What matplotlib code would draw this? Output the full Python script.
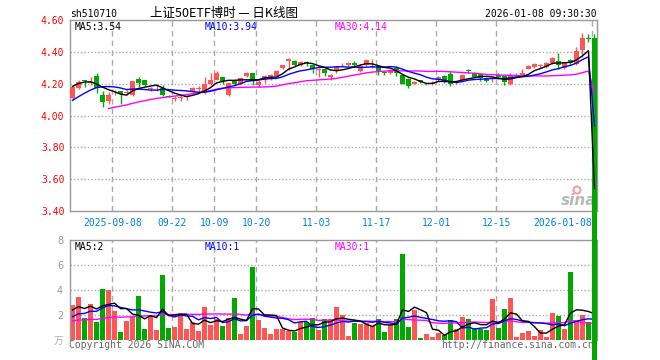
import matplotlib
matplotlib.use("Agg")
import matplotlib.pyplot as plt
from matplotlib.patches import Rectangle, Ellipse
import numpy as np
import pandas as pd

# ---------------- data ----------------
holidays = ["2025-10-01", "2025-10-02", "2025-10-03", "2025-10-06", "2025-10-07",
            "2025-10-08", "2026-01-01", "2026-01-02"]
dates = [d for d in pd.bdate_range("2025-08-28", "2026-01-08").strftime("%Y-%m-%d")
         if d not in holidays]

opens = [4.11, 4.17, 4.225, 4.205, 4.25, 4.127, 4.09, 4.145, 4.152, 4.14,
         4.13, 4.23, 4.225, 4.165, 4.17, 4.175, 4.125, 4.105, 4.11, 4.115,
         4.155, 4.165, 4.14, 4.195, 4.225, 4.24, 4.13, 4.22, 4.20, 4.25,
         4.27, 4.19, 4.225, 4.235, 4.25, 4.30, 4.345, 4.34, 4.32, 4.335,
         4.315, 4.285, 4.29, 4.24, 4.285, 4.315, 4.32, 4.33, 4.28, 4.32,
         4.305, 4.31, 4.275, 4.267, 4.30, 4.256, 4.23, 4.20, 4.22, 4.195,
         4.20, 4.22, 4.25, 4.263, 4.205, 4.225, 4.285, 4.265, 4.26, 4.235,
         4.23, 4.255, 4.25, 4.195, 4.25, 4.256, 4.295, 4.305, 4.31, 4.305,
         4.33, 4.345, 4.30, 4.35, 4.325, 4.41, 4.485, 4.49]
highs = [4.185, 4.22, 4.225, 4.24, 4.265, 4.156, 4.15, 4.16, 4.155, 4.16,
         4.215, 4.24, 4.225, 4.18, 4.19, 4.19, 4.13, 4.125, 4.13, 4.13,
         4.18, 4.185, 4.245, 4.265, 4.28, 4.245, 4.205, 4.225, 4.24, 4.275,
         4.27, 4.22, 4.255, 4.26, 4.285, 4.32, 4.36, 4.35, 4.34, 4.345,
         4.32, 4.30, 4.295, 4.26, 4.31, 4.33, 4.335, 4.34, 4.325, 4.355,
         4.355, 4.315, 4.28, 4.295, 4.31, 4.26, 4.235, 4.215, 4.225, 4.21,
         4.215, 4.25, 4.255, 4.28, 4.215, 4.26, 4.29, 4.275, 4.265, 4.24,
         4.245, 4.27, 4.255, 4.27, 4.265, 4.29, 4.32, 4.33, 4.325, 4.335,
         4.365, 4.395, 4.335, 4.355, 4.43, 4.52, 4.51, 4.51]
lows = [4.105, 4.165, 4.18, 4.19, 4.14, 4.052, 4.07, 4.13, 4.075, 4.13,
        4.12, 4.18, 4.185, 4.155, 4.155, 4.125, 4.115, 4.09, 4.09, 4.10,
        4.15, 4.155, 4.135, 4.19, 4.22, 4.195, 4.125, 4.19, 4.195, 4.245,
        4.19, 4.18, 4.205, 4.225, 4.245, 4.29, 4.283, 4.31, 4.31, 4.31,
        4.27, 4.245, 4.25, 4.22, 4.27, 4.31, 4.31, 4.31, 4.275, 4.31,
        4.30, 4.255, 4.255, 4.26, 4.25, 4.195, 4.175, 4.195, 4.205, 4.19,
        4.19, 4.215, 4.205, 4.185, 4.20, 4.215, 4.27, 4.24, 4.215, 4.21,
        4.21, 4.23, 4.19, 4.19, 4.245, 4.25, 4.29, 4.30, 4.30, 4.30,
        4.325, 4.295, 4.29, 4.315, 4.315, 4.37, 4.46, 0.0]
closes = [4.18, 4.21, 4.215, 4.208, 4.175, 4.083, 4.13, 4.15, 4.133, 4.145,
          4.215, 4.205, 4.19, 4.17, 4.175, 4.13, 4.117, 4.11, 4.115, 4.12,
          4.17, 4.17, 4.195, 4.22, 4.27, 4.215, 4.205, 4.195, 4.235, 4.27,
          4.215, 4.21, 4.25, 4.255, 4.28, 4.315, 4.355, 4.32, 4.335, 4.33,
          4.29, 4.29, 4.265, 4.256, 4.305, 4.32, 4.33, 4.32, 4.31, 4.35,
          4.31, 4.275, 4.265, 4.288, 4.265, 4.20, 4.185, 4.21, 4.21, 4.20,
          4.205, 4.245, 4.21, 4.198, 4.21, 4.255, 4.28, 4.245, 4.235, 4.215,
          4.235, 4.24, 4.21, 4.25, 4.255, 4.27, 4.31, 4.325, 4.315, 4.33,
          4.36, 4.32, 4.33, 4.33, 4.405, 4.49, 4.48, 0.0]
volumes = [2.8, 3.47, 1.79, 2.88, 1.47, 4.08, 4.0, 2.32, 0.67, 1.55,
           1.81, 3.55, 0.88, 1.92, 0.8, 5.2, 0.99, 1.07, 2.19, 0.88,
           1.47, 0.75, 2.64, 1.2, 1.65, 1.12, 1.73, 3.36, 0.48, 1.12,
           5.84, 1.6, 0.96, 0.48, 0.88, 0.88, 0.72, 0.64, 1.47, 1.47,
           1.73, 0.8, 1.65, 1.65, 2.67, 2.0, 0.32, 1.33, 1.28, 1.33,
           1.15, 1.68, 0.67, 1.2, 1.65, 6.88, 1.01, 2.4, 0.16, 0.48,
           0.27, 0.59, 0.37, 1.6, 0.88, 1.81, 1.68, 0.93, 0.88, 0.8,
           3.28, 0.96, 2.48, 3.36, 0.27, 0.59, 0.75, 0.35, 0.8, 0.27,
           2.19, 1.95, 0.88, 5.47, 1.6, 2.0, 1.44, 0.0]

# sessions before the visible window (only feed the moving averages)
prior_closes = [3.90, 3.92, 3.93, 3.91, 3.94, 3.96, 3.95, 3.97, 3.96, 3.98,
                3.97, 3.99, 3.98, 3.97, 3.98, 4.00, 4.01, 4.02, 4.03,
                4.12, 4.17, 4.20, 4.245]
prior_volumes = [1.1, 1.4, 0.9, 1.6, 1.2, 1.3, 1.0, 1.5, 1.4, 1.2,
                 1.3, 1.1, 1.5, 1.3, 1.2, 1.5, 1.1, 1.6, 1.3,
                 2.1, 2.6, 1.9, 2.6]

tick_dates = ["2025-09-08", "2025-09-22", "2025-10-09", "2025-10-20", "2025-11-03",
              "2025-11-17", "2025-12-01", "2025-12-15", "2026-01-08"]
tick_labels = ["2025-09-08", "09-22", "10-09", "10-20", "11-03",
               "11-17", "12-01", "12-15", "2026-01-08"]
price_ticks = [3.40, 3.60, 3.80, 4.00, 4.20, 4.40, 4.60]
vol_ticks = [2, 4, 6, 8]

title_code = "sh510710"
title_name = "上证50ETF博时 — 日K线图"
timestamp = "2026-01-08 09:30:30"

# ---------------- derived ----------------
n_prior = len(prior_closes)
all_c = pd.Series(prior_closes + closes)
ma5 = all_c.rolling(5).mean().values[n_prior:]
ma10 = all_c.rolling(10).mean().values[n_prior:]
ma30 = all_c.rolling(30).mean().values[n_prior:]
all_v = pd.Series(prior_volumes + volumes)
vma5 = all_v.rolling(5).mean().values[n_prior:]
vma10 = all_v.rolling(10).mean().values[n_prior:]
vma30 = all_v.rolling(30, min_periods=1).mean().values[n_prior:]

N = len(closes)
x = np.arange(N)
tick_pos = [dates.index(d) - 0.37 for d in tick_dates]

RED = "#ff5555"
GREEN = "#00a800"
GRID = "#aaaaaa"
SPINE = "#999999"
MONO = "DejaVu Sans Mono"

W, H = 660, 360
fig = plt.figure(figsize=(W / 100, H / 100), dpi=100)
fig.patch.set_facecolor("white")


def fx(px):
    return px / W


def fy(py):
    return 1 - py / H


ax = fig.add_axes([fx(70), fy(211), fx(527), 191 / H])
axv = fig.add_axes([fx(70), fy(340), fx(527), 100 / H])
ax.set_zorder(2)
axv.set_zorder(1)
ax.patch.set_alpha(0)

bw = 0.83
for a in (ax, axv):
    a.set_xlim(-0.42, N - 1 + 0.42)
    for sp in a.spines.values():
        sp.set_color(SPINE)
        sp.set_linewidth(1)
    a.set_xticks(tick_pos)
    for tp in tick_pos:
        a.axvline(tp, color=GRID, lw=1, ls=(0, (4, 3)), zorder=0.5)

axv.spines["bottom"].set_visible(False)

# price panel
ax.set_ylim(3.40, 4.60)
ax.set_yticks(price_ticks)
ax.set_yticklabels([f"{v:.2f}" for v in price_ticks], fontsize=7, family=MONO, color="red")
for v in price_ticks[1:-1]:
    ax.axhline(v, color=GRID, lw=1, ls=(0, (1, 1.5)), zorder=0.5)
ax.set_xticklabels(tick_labels, fontsize=7, family=MONO, color="#0080e0")
ax.get_xticklabels()[-1].set_horizontalalignment("right")
ax.tick_params(axis="both", length=0)
ax.tick_params(axis="y", pad=4)
ax.tick_params(axis="x", pad=5)

for i in range(N):
    o, h, l, c = opens[i], highs[i], lows[i], closes[i]
    col = RED if c >= o else GREEN
    last = i == N - 1
    ax.vlines(i, l, h, color=col, lw=1, zorder=3, clip_on=not last)
    bottom = min(o, c)
    height = max(abs(c - o), 0.004)
    ax.add_patch(Rectangle((i - bw / 2, bottom), bw, height, facecolor=col,
                           edgecolor="none", zorder=3, clip_on=not last))

ax.plot(x, ma30, color="#ff00ff", lw=1, zorder=4)
ax.plot(x, ma10, color="#0000ff", lw=1, zorder=4)
ax.plot(x, ma5, color="black", lw=1, zorder=4)

ax.text(fx(75), fy(29.5), f"MA5:{ma5[-1]:.2f}", transform=fig.transFigure,
        fontsize=7, family=MONO, color="black", va="baseline")
ax.text(fx(205), fy(29.5), f"MA10:{ma10[-1]:.2f}", transform=fig.transFigure,
        fontsize=7, family=MONO, color="#0000ff", va="baseline")
ax.text(fx(334.5), fy(29.5), f"MA30:{ma30[-1]:.2f}", transform=fig.transFigure,
        fontsize=7, family=MONO, color="#ff00ff", va="baseline")

# sina watermark
ax.text(fx(579), fy(205), "sina", transform=fig.transFigure, fontsize=11,
        style="italic", weight="bold", color="#b8b8b8", ha="center",
        va="baseline", zorder=1)
fig.patches.append(Ellipse((fx(577), fy(190)), fx(7), 7 / H, transform=fig.transFigure,
                           facecolor="none", edgecolor="#f4a0a0", lw=1.5, zorder=1))

# volume panel
axv.set_ylim(0, 8)
axv.set_yticks(vol_ticks)
axv.set_yticklabels([str(v) for v in vol_ticks], fontsize=7, color=SPINE)
axv.tick_params(axis="both", length=0)
axv.tick_params(axis="y", pad=5)
axv.set_xticklabels([])
for v in vol_ticks[:-1]:
    axv.axhline(v, color=GRID, lw=1, ls=(0, (1, 1.5)), zorder=0.5)
vcols = [RED if closes[i] >= opens[i] else GREEN for i in range(N)]
axv.bar(x, volumes, width=bw, color=vcols, zorder=2)
axv.plot(x, vma30, color="#ff00ff", lw=1, zorder=4)
axv.plot(x, vma10, color="#0000ff", lw=1, zorder=4)
axv.plot(x, vma5, color="black", lw=1, zorder=4)

fig.text(fx(75), fy(250), f"MA5:{int(vma5[-1])}", fontsize=7, family=MONO,
         color="black", va="baseline")
fig.text(fx(205), fy(250), f"MA10:{int(vma10[-1])}", fontsize=7, family=MONO,
         color="#0000ff", va="baseline")
fig.text(fx(334.5), fy(250), f"MA30:{int(vma30[-1])}", fontsize=7, family=MONO,
         color="#ff00ff", va="baseline")
fig.text(fx(63), fy(344), "万", fontsize=7, family=["Noto Sans CJK SC", "DejaVu Sans"],
         color="#b0b0b0", ha="right", va="baseline", zorder=1)

# header / footer text
fig.text(fx(70), fy(16.7), title_code, fontsize=7, family=MONO, color="black",
         va="baseline")
fig.text(fx(150), fy(16.7), title_name, fontsize=9,
         family=["Noto Sans CJK SC", "DejaVu Sans"], color="black", va="baseline")
fig.text(fx(597), fy(16.7), timestamp, fontsize=7, family=MONO, color="black",
         ha="right", va="baseline")
fig.text(fx(69), fy(348.5), "Copyright 2026 SINA.COM", fontsize=7, family=MONO,
         color="#666666", va="baseline", zorder=1)
fig.text(fx(441.5), fy(348.5), "http://finance.sina.com.cn", fontsize=7, family=MONO,
         color="#666666", va="baseline", zorder=1)

fig.savefig("out.png", dpi=100)
